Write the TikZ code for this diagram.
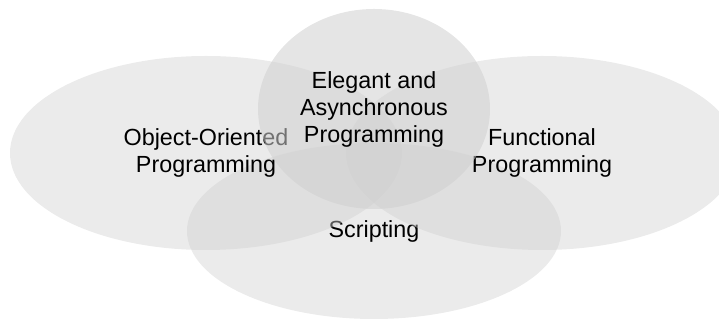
\documentclass[tikz,border=0pt]{standalone}
\usepackage{fontspec}
\setmainfont{Liberation Sans}
\usetikzlibrary{shapes.geometric}

\definecolor{vennFill}{HTML}{CFCFCF}

\tikzset{
  venn/.style={ellipse,fill=vennFill,fill opacity=0.42,text opacity=1,
    inner sep=0pt,align=center,font=\fontsize{17.5}{20.25}\selectfont},
  vennTop/.style={venn,fill opacity=0.55}
}

\begin{document}
\begin{tikzpicture}[x=0.75pt,y=0.75pt]
  \useasboundingbox (0,0) rectangle (719,320);
  \node[venn,minimum width=280.5pt,minimum height=132pt] (script) at (374,89) {Scripting};
  \node[venn,minimum width=294pt,minimum height=145.5pt] (oop) at (206,167) {Object-Oriented\\Programming};
  \node[venn,minimum width=294pt,minimum height=145.5pt] (func) at (542,167) {Functional\\Programming};
  \node[vennTop,minimum width=174pt,minimum height=150pt] (async) at (374,211) {Elegant and\\Asynchronous\\Programming};
\end{tikzpicture}
\end{document}
